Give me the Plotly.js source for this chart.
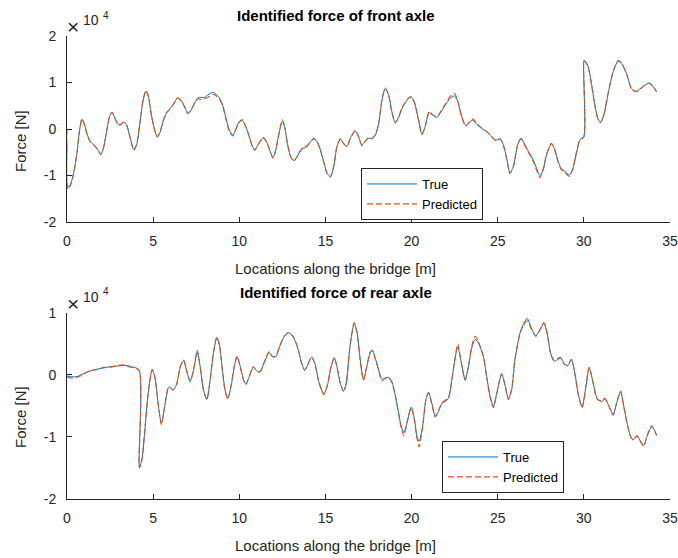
<!DOCTYPE html>
<html>
<head>
<meta charset="utf-8">
<script src="https://cdn.plot.ly/plotly-3.0.1.min.js"></script>
<style>html,body{margin:0;padding:0;background:#fff;}#chart{width:678px;height:558px;}</style>
</head>
<body>
<div id="chart"></div>
<script>
// Values in units of 10^4 N
const frontX = [0,0.04,0.19,0.38,0.58,0.73,0.87,1.0,1.15,1.35,1.54,1.73,1.96,2.12,2.31,2.5,2.62,2.79,2.98,3.12,3.31,3.46,3.65,3.88,4.04,4.23,4.42,4.58,4.71,4.85,5.04,5.23,5.38,5.58,5.77,5.96,6.15,6.35,6.44,6.63,6.83,7.02,7.21,7.4,7.6,7.79,7.98,8.17,8.37,8.5,8.69,8.85,9.04,9.23,9.42,9.62,9.81,10.0,10.19,10.38,10.58,10.77,10.9,11.1,11.35,11.44,11.63,11.83,11.96,12.12,12.31,12.5,12.63,12.79,12.98,13.17,13.37,13.56,13.75,13.94,14.13,14.33,14.52,14.71,14.9,15.1,15.29,15.48,15.67,15.87,16.06,16.25,16.44,16.73,16.92,17.12,17.31,17.5,17.7,17.9,18.09,18.28,18.47,18.67,18.86,19.05,19.25,19.44,19.73,19.96,20.15,20.41,20.6,20.79,21.02,21.22,21.47,21.66,21.95,22.24,22.49,22.68,22.92,23.15,23.36,23.55,23.78,24.07,24.36,24.65,24.88,25.14,25.33,25.52,25.71,25.91,26.16,26.35,26.58,26.78,27.06,27.25,27.45,27.64,27.83,28.12,28.32,28.51,28.7,28.9,29.15,29.34,29.57,29.77,30.0,30.01,30.08,30.25,30.44,30.64,30.83,30.97,31.16,31.41,31.7,31.99,32.19,32.48,32.77,33.02,33.25,33.54,33.79,34.02,34.22];
const frontTrue = [-0.31,-1.25,-1.2,-0.95,-0.52,-0.02,0.21,0.12,-0.09,-0.27,-0.34,-0.41,-0.54,-0.41,-0.02,0.3,0.35,0.23,0.1,0.09,0.14,0.09,-0.16,-0.44,-0.34,0.12,0.62,0.81,0.73,0.41,0.05,-0.16,-0.09,0.16,0.34,0.43,0.51,0.64,0.67,0.61,0.48,0.34,0.41,0.56,0.67,0.68,0.68,0.73,0.78,0.79,0.73,0.67,0.51,0.23,-0.02,-0.13,0.01,0.16,0.18,0.05,-0.16,-0.38,-0.44,-0.34,-0.2,-0.19,-0.31,-0.52,-0.61,-0.45,-0.09,0.16,0.05,-0.31,-0.59,-0.68,-0.59,-0.45,-0.41,-0.38,-0.27,-0.22,-0.27,-0.45,-0.7,-0.95,-1.02,-0.81,-0.38,-0.22,-0.31,-0.38,-0.2,-0.04,-0.16,-0.34,-0.27,-0.2,-0.2,-0.13,0.12,0.62,0.87,0.73,0.37,0.14,0.25,0.44,0.62,0.69,0.59,0.19,-0.11,0.05,0.35,0.3,0.25,0.34,0.51,0.66,0.71,0.59,0.26,0.07,0.14,0.19,0.1,0.01,-0.06,-0.16,-0.24,-0.22,-0.34,-0.63,-0.94,-0.81,-0.34,-0.2,-0.34,-0.48,-0.66,-0.84,-1.0,-0.88,-0.56,-0.32,-0.45,-0.7,-0.86,-0.91,-0.99,-0.88,-0.52,-0.24,-0.16,1.48,1.46,1.34,0.98,0.51,0.21,0.14,0.3,0.76,1.23,1.46,1.41,1.19,0.87,0.81,0.86,0.94,0.98,0.91,0.8];
const frontPred = [0.0,-1.3,-1.22,-0.97,-0.5,-0.03,0.22,0.1,-0.1,-0.28,-0.33,-0.42,-0.55,-0.4,-0.03,0.31,0.36,0.22,0.09,0.1,0.15,0.08,-0.17,-0.46,-0.33,0.13,0.63,0.83,0.72,0.4,0.04,-0.17,-0.08,0.17,0.35,0.42,0.52,0.65,0.66,0.6,0.47,0.33,0.42,0.55,0.65,0.63,0.65,0.68,0.72,0.75,0.7,0.64,0.49,0.2,-0.05,-0.15,0.0,0.15,0.2,0.04,-0.17,-0.39,-0.46,-0.33,-0.18,-0.2,-0.32,-0.53,-0.63,-0.44,-0.08,0.2,0.06,-0.3,-0.6,-0.69,-0.58,-0.47,-0.37,-0.36,-0.28,-0.2,-0.28,-0.46,-0.71,-0.96,-1.03,-0.8,-0.37,-0.21,-0.32,-0.37,-0.21,-0.03,-0.17,-0.36,-0.26,-0.19,-0.21,-0.12,0.11,0.63,0.88,0.72,0.36,0.13,0.26,0.45,0.63,0.7,0.58,0.18,-0.12,0.06,0.38,0.31,0.27,0.36,0.53,0.7,0.77,0.6,0.25,0.06,0.16,0.22,0.12,0.02,-0.05,-0.17,-0.25,-0.21,-0.36,-0.65,-0.96,-0.8,-0.33,-0.21,-0.36,-0.5,-0.7,-0.88,-1.05,-0.86,-0.55,-0.31,-0.47,-0.72,-0.88,-0.93,-1.02,-0.87,-0.5,-0.23,-0.17,1.47,1.45,1.33,0.97,0.5,0.2,0.15,0.31,0.77,1.24,1.47,1.42,1.18,0.86,0.8,0.85,0.95,0.99,0.92,0.8];

const rearX = [0,0.19,0.58,0.96,1.35,1.73,2.12,2.5,2.88,3.27,3.46,3.75,4.18,4.2,4.3,4.38,4.52,4.71,4.94,5.1,5.29,5.48,5.67,5.87,5.96,6.15,6.35,6.58,6.77,6.96,7.15,7.35,7.56,7.73,7.92,8.12,8.31,8.5,8.7,8.85,9.04,9.17,9.33,9.52,9.71,9.87,10.06,10.25,10.38,10.58,10.81,11.0,11.19,11.44,11.73,11.92,12.12,12.31,12.6,12.83,13.08,13.37,13.6,13.79,13.98,14.19,14.38,14.62,14.9,15.1,15.33,15.52,15.67,15.87,16.06,16.21,16.4,16.54,16.67,16.83,17.02,17.21,17.4,17.6,17.72,17.9,18.09,18.28,18.47,18.67,18.86,19.05,19.25,19.4,19.56,19.73,19.98,20.17,20.31,20.44,20.64,20.83,20.98,21.18,21.37,21.56,21.76,21.95,22.14,22.34,22.53,22.68,22.88,23.11,23.3,23.49,23.69,23.88,24.17,24.36,24.56,24.75,24.94,25.23,25.42,25.62,25.81,26.0,26.29,26.5,26.71,26.96,27.21,27.45,27.68,27.87,28.07,28.26,28.45,28.65,28.84,29.03,29.28,29.48,29.67,29.9,30.12,30.31,30.54,30.77,31.03,31.22,31.47,31.7,31.9,32.13,32.32,32.51,32.71,32.86,33.09,33.29,33.48,33.67,33.93,34.08,34.22];
const rearTrue = [-0.02,-0.03,-0.03,0.02,0.06,0.09,0.11,0.13,0.14,0.15,0.15,0.13,0.08,-1.47,-1.42,-1.31,-0.89,-0.3,0.08,-0.03,-0.46,-0.78,-0.51,-0.22,-0.19,-0.25,-0.16,0.13,0.23,0.05,-0.1,0.08,0.37,0.13,-0.24,-0.39,-0.08,0.35,0.6,0.48,0.03,-0.24,-0.38,-0.19,0.13,0.29,0.13,-0.08,-0.15,-0.03,0.12,0.07,0.04,0.19,0.36,0.3,0.29,0.43,0.61,0.68,0.64,0.45,0.21,0.07,0.16,0.28,0.19,-0.11,-0.31,-0.19,0.13,0.27,0.13,-0.14,-0.26,-0.14,0.4,0.67,0.83,0.69,0.24,-0.08,0.13,0.35,0.4,0.26,0.08,-0.07,-0.05,-0.04,-0.11,-0.32,-0.62,-0.83,-0.93,-0.78,-0.52,-0.72,-0.99,-1.07,-0.83,-0.4,-0.28,-0.46,-0.66,-0.59,-0.46,-0.43,-0.38,-0.08,0.27,0.45,0.21,-0.08,0.13,0.43,0.57,0.51,0.29,-0.03,-0.35,-0.51,-0.3,0.01,-0.16,-0.38,-0.24,0.24,0.67,0.82,0.91,0.75,0.63,0.72,0.83,0.67,0.35,0.22,0.24,0.27,0.19,0.14,0.23,0.02,-0.3,-0.52,-0.19,0.11,-0.13,-0.38,-0.43,-0.39,-0.51,-0.64,-0.46,-0.27,-0.51,-0.78,-0.99,-1.05,-0.99,-1.07,-1.14,-0.99,-0.84,-0.88,-0.97];
const rearPred = [-0.04,-0.05,-0.04,0.01,0.07,0.08,0.12,0.12,0.15,0.16,0.14,0.12,0.07,-1.5,-1.44,-1.3,-0.88,-0.31,0.09,-0.04,-0.47,-0.8,-0.5,-0.21,-0.2,-0.24,-0.17,0.14,0.24,0.04,-0.11,0.09,0.39,0.12,-0.25,-0.4,-0.07,0.36,0.61,0.47,0.02,-0.25,-0.39,-0.18,0.14,0.3,0.12,-0.09,-0.16,-0.02,0.13,0.06,0.05,0.2,0.37,0.29,0.3,0.44,0.62,0.67,0.63,0.46,0.2,0.08,0.17,0.29,0.18,-0.12,-0.32,-0.18,0.14,0.28,0.12,-0.15,-0.27,-0.13,0.41,0.68,0.84,0.68,0.23,-0.09,0.14,0.37,0.39,0.25,0.07,-0.1,-0.06,-0.05,-0.13,-0.33,-0.63,-0.86,-0.98,-0.77,-0.53,-0.74,-1.02,-1.16,-0.84,-0.41,-0.29,-0.48,-0.68,-0.58,-0.45,-0.41,-0.37,-0.07,0.28,0.5,0.2,-0.09,0.14,0.46,0.62,0.53,0.3,-0.04,-0.36,-0.53,-0.31,0.02,-0.17,-0.4,-0.23,0.25,0.66,0.8,0.87,0.73,0.62,0.73,0.84,0.66,0.34,0.24,0.26,0.28,0.18,0.15,0.25,0.01,-0.31,-0.53,-0.18,0.12,-0.14,-0.39,-0.42,-0.38,-0.52,-0.65,-0.45,-0.26,-0.52,-0.79,-1.0,-1.04,-0.98,-1.08,-1.15,-0.98,-0.82,-0.89,-0.98];

const xTicks = [0,5,10,15,20,25,30,35];
const yTicksFront = [-2,-1,0,1,2];
const yTicksRear = [-2,-1,0,1];
const seriesNames = ['True','Predicted'];
const titles = ['Identified force of front axle','Identified force of rear axle'];
const xLabel = 'Locations along the bridge [m]';
const yLabel = 'Force [N]';

const BLUE = '#0072BD', RED = '#D95319', AX = '#262626';
const FONT = 'Liberation Sans, Arial, Helvetica, sans-serif';
const W = 678, H = 558, ML = 67, MR = 8, MT = 36, MB = 59;
const PW = W - ML - MR, PH = H - MT - MB;
const px = v => (v - ML) / PW;
const py = v => (H - MB - v) / PH;

const traces = [
  {x: frontX, y: frontTrue, name: seriesNames[0], type: 'scatter', mode: 'lines', xaxis: 'x', yaxis: 'y', legend: 'legend',
   line: {color: BLUE, width: 1, shape: 'spline', smoothing: 0.7}},
  {x: frontX, y: frontPred, name: seriesNames[1], type: 'scatter', mode: 'lines', xaxis: 'x', yaxis: 'y', legend: 'legend',
   line: {color: RED, width: 1.1, dash: '6px,3px', shape: 'spline', smoothing: 0.7}},
  {x: rearX, y: rearTrue, name: seriesNames[0], type: 'scatter', mode: 'lines', xaxis: 'x2', yaxis: 'y2', legend: 'legend2',
   line: {color: BLUE, width: 1, shape: 'spline', smoothing: 0.7}},
  {x: rearX, y: rearPred, name: seriesNames[1], type: 'scatter', mode: 'lines', xaxis: 'x2', yaxis: 'y2', legend: 'legend2',
   line: {color: RED, width: 1.1, dash: '6px,3px', shape: 'spline', smoothing: 0.7}}
];

const xax = (anchor) => ({
  anchor: anchor, domain: [0, 1], range: [0, 35], tickvals: xTicks, ticktext: xTicks.map(String),
  ticks: 'inside', ticklen: 5, tickcolor: AX, tickwidth: 1, showline: true, linecolor: AX, linewidth: 1,
  showgrid: false, zeroline: false, ticklabelstandoff: 6, ticklabeloverflow: 'allow',
  tickfont: {family: FONT, size: 14, color: AX}, fixedrange: true
});
const yax = (anchor, dom, rng, tv) => ({
  anchor: anchor, domain: dom, range: rng, tickvals: tv, ticktext: tv.map(v => String(v)),
  ticks: 'inside', ticklen: 5, tickcolor: AX, tickwidth: 1, showline: true, linecolor: AX, linewidth: 1,
  showgrid: false, zeroline: false, ticklabelstandoff: 7, ticklabeloverflow: 'allow',
  tickfont: {family: FONT, size: 14, color: AX}, fixedrange: true
});

const legendStyle = (x, y) => ({
  x: x, y: y, xanchor: 'left', yanchor: 'top', xref: 'paper', yref: 'paper',
  bgcolor: '#ffffff', bordercolor: AX, borderwidth: 1,
  font: {family: FONT, size: 13, color: '#000'}, itemwidth: 50, tracegroupgap: 0
});

const ann = (text, x, y, opts) => Object.assign({
  text: text, x: px(x), y: py(y), xref: 'paper', yref: 'paper', showarrow: false,
  xanchor: 'center', yanchor: 'middle', font: {family: FONT, size: 15, color: AX}
}, opts || {});

const annotations = [
  ann('<b>' + titles[0] + '</b>', 336, 15, {font: {family: FONT, size: 15, color: '#000'}}),
  ann('<b>' + titles[1] + '</b>', 336, 292, {font: {family: FONT, size: 15, color: '#000'}}),
  ann(xLabel, 335, 268),
  ann(xLabel, 335, 545),
  ann(yLabel, 20, 141, {textangle: -90}),
  ann(yLabel, 20, 417, {textangle: -90}),
  ann('\u00d7', 73, 26, {font: {family: FONT, size: 21, color: AX}}),
  ann('10', 91, 20, {font: {family: FONT, size: 14, color: AX}}),
  ann('4', 106, 15, {font: {family: FONT, size: 10, color: AX}}),
  ann('\u00d7', 73, 303, {font: {family: FONT, size: 21, color: AX}}),
  ann('10', 91, 297, {font: {family: FONT, size: 14, color: AX}}),
  ann('4', 106, 291, {font: {family: FONT, size: 10, color: AX}})
];

const layout = {
  width: W, height: H, margin: {l: ML, r: MR, t: MT, b: MB, pad: 0},
  paper_bgcolor: '#ffffff', plot_bgcolor: '#ffffff', showlegend: true,
  font: {family: FONT, color: AX},
  xaxis: xax('y'),
  yaxis: yax('x', [py(222), 1], [-2, 2], yTicksFront),
  xaxis2: xax('y2'),
  yaxis2: yax('x2', [0, py(312.7)], [-2, 1], yTicksRear),
  legend: legendStyle(px(361), py(168)),
  legend2: legendStyle(px(442), py(441)),
  annotations: annotations
};

Plotly.newPlot('chart', traces, layout, {displayModeBar: false, staticPlot: true});
</script>
</body>
</html>
